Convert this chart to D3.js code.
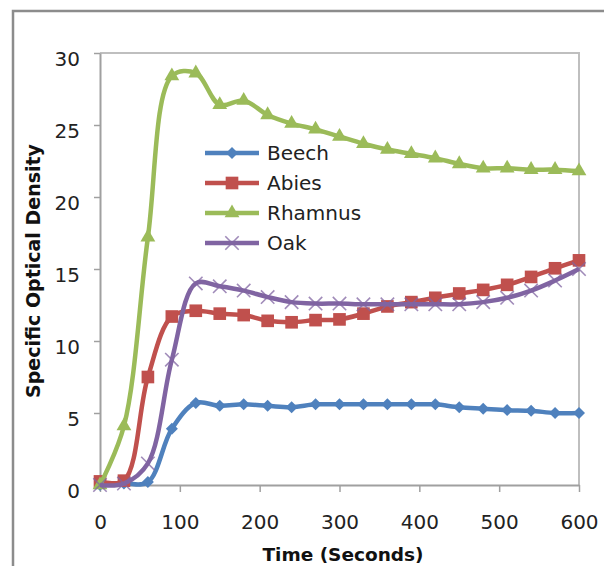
<!DOCTYPE html>
<html>
<head>
<meta charset="utf-8">
<script src="https://cdnjs.cloudflare.com/ajax/libs/d3/7.8.5/d3.min.js"></script>
<style>
  body { margin: 0; background: #fff; }
  text { font-family: "DejaVu Sans", sans-serif; }
</style>
</head>
<body>
<script>
var w = 604;
var h = 566;

// data (one point every 30 s)
var times   = [0, 30, 60, 90, 120, 150, 180, 210, 240, 270, 300, 330, 360, 390, 420, 450, 480, 510, 540, 570, 600];
var beech   = [0, 0.1, 0.2, 3.9, 5.7, 5.5, 5.6, 5.5, 5.4, 5.6, 5.6, 5.6, 5.6, 5.6, 5.6, 5.4, 5.3, 5.2, 5.15, 5.0, 5.0];
var abies   = [0.25, 0.3, 7.5, 11.7, 12.1, 11.9, 11.8, 11.4, 11.3, 11.45, 11.5, 11.9, 12.4, 12.7, 13.0, 13.3, 13.55, 13.9, 14.45, 15.05, 15.6];
var rhamnus = [0, 4.1, 17.2, 28.4, 28.6, 26.4, 26.7, 25.7, 25.1, 24.7, 24.2, 23.7, 23.3, 23.0, 22.7, 22.3, 22.0, 22.0, 21.9, 21.9, 21.8];
var oak     = [0, 0.1, 1.5, 8.7, 14.0, 13.8, 13.5, 13.05, 12.7, 12.6, 12.6, 12.55, 12.55, 12.55, 12.55, 12.55, 12.7, 13.0, 13.5, 14.2, 15.0];
var seriesNames = ["Beech", "Abies", "Rhamnus", "Oak"];
var xTicks = [0, 100, 200, 300, 400, 500, 600];
var yTicks = [0, 5, 10, 15, 20, 25, 30];

// custom "x" marker
var symbolCross = {
  draw: function(ctx, size) {
    var r = Math.sqrt(size) / 2;
    ctx.moveTo(-r, -r); ctx.lineTo(r, r);
    ctx.moveTo(r, -r); ctx.lineTo(-r, r);
  }
};

var series = [
  { name: seriesNames[0], values: beech,   color: "#4F81BD", symbol: d3.symbolSquare,   size: 72,  rotate: 45 },
  { name: seriesNames[1], values: abies,   color: "#C0504D", symbol: d3.symbolSquare,   size: 160, rotate: 0 },
  { name: seriesNames[2], values: rhamnus, color: "#9BBB59", symbol: d3.symbolTriangle, size: 95,  rotate: 0 },
  { name: seriesNames[3], values: oak,     color: "#8064A2", symbol: symbolCross,       size: 180, rotate: 0, stroke: true }
];

var svg = d3.select("body").append("svg")
          .attr("width", w)
          .attr("height", h);

svg.append("rect")
   .attr("width", w)
   .attr("height", h)
   .attr("fill", "#fff");

// chart frame (runs off the page right and bottom)
svg.append("rect")
   .attr("x", 13)
   .attr("y", 11)
   .attr("width", 700)
   .attr("height", 700)
   .attr("fill", "none")
   .attr("stroke", "#8c8c8c")
   .attr("stroke-width", 2.5);

var x = d3.scaleLinear().domain([0, 600]).range([100, 579]);
var y = d3.scaleLinear().domain([0, 30]).range([485, 53]);

// plot area border (top & right)
svg.append("path")
   .attr("d", "M" + x(0) + "," + y(30) + "H" + x(600) + "V" + y(0))
   .attr("fill", "none")
   .attr("stroke", "#bfbfbf")
   .attr("stroke-width", 2);

// axes
var yAxis = svg.append("g")
   .attr("transform", "translate(" + x(0) + ",0)")
   .call(d3.axisLeft(y).tickValues(yTicks).tickSize(6).tickSizeOuter(0).tickPadding(14));

var xAxis = svg.append("g")
   .attr("transform", "translate(0," + y(0) + ")")
   .call(d3.axisBottom(x).tickValues(xTicks).tickSize(7).tickSizeOuter(0).tickPadding(23));

[yAxis, xAxis].forEach(function(ax) {
  ax.select(".domain").attr("stroke", "#a0a0a0").attr("stroke-width", 2);
  ax.selectAll(".tick line").attr("stroke", "#a0a0a0").attr("stroke-width", 1.5);
  ax.selectAll(".tick text")
    .attr("font-family", "DejaVu Sans")
    .attr("font-size", 20)
    .attr("fill", "#222");
});
yAxis.selectAll(".tick text").attr("dy", "0.6em");

// axis titles
svg.append("text")
   .attr("transform", "translate(40,271) rotate(-90)")
   .attr("text-anchor", "middle")
   .attr("font-size", 19)
   .attr("font-weight", "bold")
   .attr("fill", "#111")
   .text("Specific Optical Density");

svg.append("text")
   .attr("x", 343)
   .attr("y", 561)
   .attr("text-anchor", "middle")
   .attr("font-size", 18.5)
   .attr("font-weight", "bold")
   .attr("fill", "#111")
   .text("Time (Seconds)");

// lines + markers
var line = d3.line()
   .x(function(d, i) { return x(times[i]); })
   .y(function(d) { return y(d); })
   .curve(d3.curveCatmullRom);

function drawMarker(g, s) {
  var p = g.append("path")
    .attr("d", d3.symbol().type(s.symbol).size(s.size)())
    .attr("transform", "rotate(" + s.rotate + ")");
  if (s.stroke) {
    p.attr("fill", "none").attr("stroke", s.color).attr("stroke-width", 1.6).attr("stroke-opacity", 0.75);
  } else {
    p.attr("fill", s.color);
  }
  return p;
}

series.forEach(function(s) {
  var g = svg.append("g");
  g.append("path")
   .attr("d", line(s.values))
   .attr("fill", "none")
   .attr("stroke", s.color)
   .attr("stroke-width", 4.5);

  g.selectAll("g.m")
   .data(s.values)
   .enter().append("g")
   .attr("class", "m")
   .attr("transform", function(d, i) { return "translate(" + x(times[i]) + "," + y(d) + ")"; })
   .each(function() { drawMarker(d3.select(this), s); });
});

// legend
var legend = svg.append("g");
series.forEach(function(s, i) {
  var ly = 153 + i * 30;
  var row = legend.append("g").attr("transform", "translate(0," + ly + ")");
  row.append("line")
     .attr("x1", 205).attr("x2", 259)
     .attr("y1", 0).attr("y2", 0)
     .attr("stroke", s.color)
     .attr("stroke-width", 4.5);
  var m = row.append("g").attr("transform", "translate(232,0)");
  drawMarker(m, s);
  row.append("text")
     .attr("x", 267)
     .attr("y", 0)
     .attr("dy", "0.36em")
     .attr("font-size", 20)
     .attr("fill", "#222")
     .text(s.name);
});
</script>
</body>
</html>
